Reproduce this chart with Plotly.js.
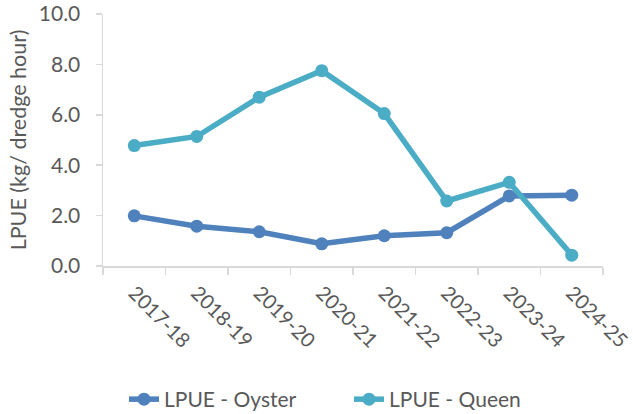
<!DOCTYPE html>
<html>
<head>
<meta charset="utf-8">
<script src="https://cdn.plot.ly/plotly-3.0.1.min.js"></script>
<style>html,body{margin:0;padding:0;background:#fff}#chart{width:633px;height:414px}</style>
</head>
<body>
<div id="chart"></div>
<script>
const seasons = ["2017-18","2018-19","2019-20","2020-21","2021-22","2022-23","2023-24","2024-25"];
const oysterLPUE = [1.99, 1.58, 1.36, 0.88, 1.20, 1.32, 2.78, 2.81];
const queenLPUE = [4.78, 5.14, 6.70, 7.75, 6.05, 2.58, 3.32, 0.43];
const yTicks = [0, 2, 4, 6, 8, 10];

const fontFam = "Lato, 'Open Sans', sans-serif";
const txtCol = "#595959";
const oysterCol = "#4F81BD";
const queenCol = "#4BACC6";

const traces = [
  {x: seasons, y: oysterLPUE, name: "LPUE - Oyster", type: "scatter", mode: "lines+markers",
   line: {color: oysterCol, width: 5.5}, marker: {color: oysterCol, size: 13}},
  {x: seasons, y: queenLPUE, name: "LPUE - Queen", type: "scatter", mode: "lines+markers",
   line: {color: queenCol, width: 5.5}, marker: {color: queenCol, size: 13}}
];

const layout = {
  width: 633, height: 414,
  margin: {l: 103, r: 30, t: 14, b: 147.5},
  paper_bgcolor: "#fff", plot_bgcolor: "#fff",
  font: {family: fontFam, size: 21, color: txtCol},
  showlegend: true,
  legend: {orientation: "h", x: 124 / 633, xref: "container", xanchor: "left",
           y: 0.035, yref: "container", yanchor: "middle", entrywidth: 180,
           font: {size: 21, color: txtCol}},
  xaxis: {type: "category", range: [-0.5, 7.5], showline: true, linecolor: "#d9d9d9", linewidth: 1.5,
          ticks: "outside", tickson: "boundaries", ticklen: 7, tickcolor: "#d9d9d9", tickwidth: 1.5,
          tickangle: 45, showgrid: false, zeroline: false, ticklabelshift: 0, ticklabelstandoff: 6,
          tickfont: {size: 20, color: txtCol}, automargin: false},
  yaxis: {range: [0, 10], tickvals: yTicks, tickformat: ".1f", showline: true, linecolor: "#d9d9d9", linewidth: 1.5,
          ticks: "outside", ticklen: 6, tickcolor: "#d9d9d9", tickwidth: 1.5, showgrid: false, zeroline: false,
          ticklabelstandoff: 11,
          tickfont: {size: 21, color: txtCol}, automargin: false,
          title: {text: "LPUE (kg/ dredge hour)", font: {size: 21.5, color: txtCol}, standoff: 6}}
};

Plotly.newPlot("chart", traces, layout, {displayModeBar: false, staticPlot: true});
</script>
</body>
</html>
